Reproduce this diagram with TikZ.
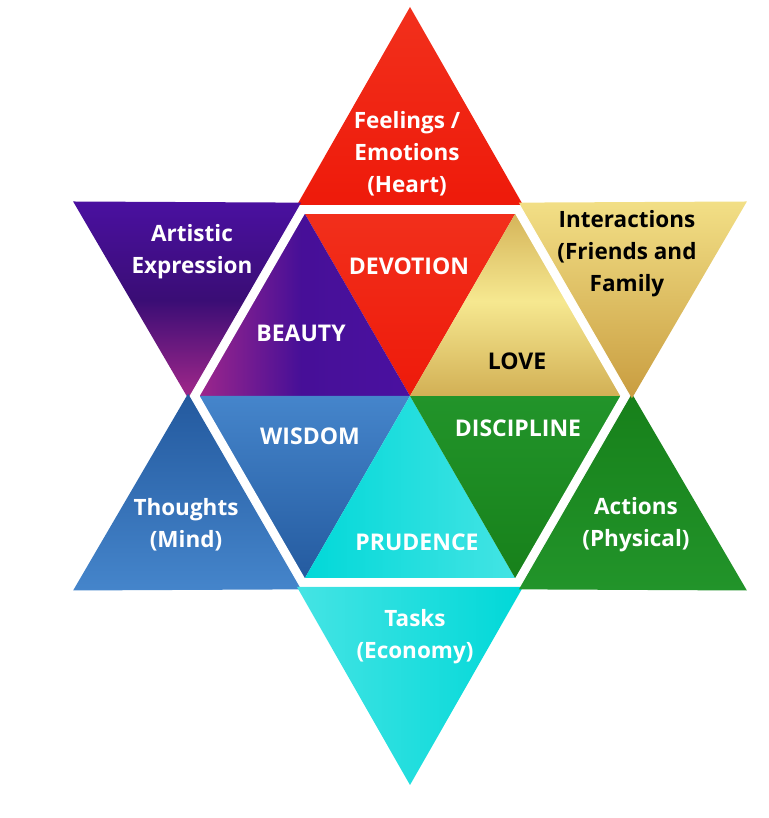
\documentclass[tikz,border=0pt]{standalone}
\usepackage{fontspec}
\setmainfont{Open Sans}
\usetikzlibrary{calc}
\definecolor{redA}{HTML}{F2301C}
\definecolor{redB}{HTML}{EE1A0A}
\definecolor{purA}{HTML}{4A10A0}
\definecolor{purB}{HTML}{3A0D75}
\definecolor{purC}{HTML}{A3288A}
\definecolor{goldA}{HTML}{F2DF86}
\definecolor{goldB}{HTML}{C99D40}
\definecolor{goldC}{HTML}{D2B055}
\definecolor{goldD}{HTML}{F6E890}
\definecolor{bluA}{HTML}{23599E}
\definecolor{bluB}{HTML}{4585CB}
\definecolor{grnA}{HTML}{17801A}
\definecolor{grnB}{HTML}{22942A}
\definecolor{cyaA}{HTML}{45E4E4}
\definecolor{cyaB}{HTML}{00D8D8}
\tikzset{
  outertxt/.style={font=\fontsize{22.5}{32}\selectfont\bfseries,text=white,
                   align=center,inner sep=0pt},
  innertxt/.style={font=\fontsize{23}{28}\selectfont\bfseries,text=white,
                   anchor=base,inner sep=0pt},
  darktxt/.style={text=black},
  rim/.style={draw=white,line width=8pt,line join=miter},
}

\begin{document}
\begin{tikzpicture}[x=1pt,y=1pt]
\useasboundingbox (0,0) rectangle (768,818);
\coordinate (C) at (410,422);

% --- corners of the six points of the star and the six inner wedges
\foreach \ang/\nm in {90/top,150/ul,210/ll,270/bot,330/lr,30/ur}{
  \pgfmathsetmacro\angl{\ang+90}
  \pgfmathsetmacro\angr{\ang-90}
  \pgfmathsetmacro\hexl{\ang+30}
  \pgfmathsetmacro\hexr{\ang-30}
  \coordinate (\nm-tip) at ($(C)+(\ang:389)$);
  \coordinate (\nm-b1)  at ($(C)+(\ang:191)+(\angl:113)$);
  \coordinate (\nm-b2)  at ($(C)+(\ang:191)+(\angr:113)$);
  \coordinate (\nm-h1)  at ($(C)+(\hexl:219)$);
  \coordinate (\nm-h2)  at ($(C)+(\hexr:219)$);
}

% --- outer points
\shade[top color=redA,bottom color=redB]                (top-tip) -- (top-b1) -- (top-b2) -- cycle;
\shade[top color=purA,bottom color=purC,middle color=purB] (ul-tip) -- (ul-b1) -- (ul-b2) -- cycle;
\shade[top color=bluA,bottom color=bluB]                (ll-tip) -- (ll-b1) -- (ll-b2) -- cycle;
\shade[left color=cyaA,right color=cyaB]                (bot-tip) -- (bot-b1) -- (bot-b2) -- cycle;
\shade[top color=grnA,bottom color=grnB]                (lr-tip) -- (lr-b1) -- (lr-b2) -- cycle;
\shade[top color=goldA,bottom color=goldB]              (ur-tip) -- (ur-b1) -- (ur-b2) -- cycle;

% --- inner wedges
\shade[top color=redA,bottom color=redB]                (C) -- (top-h1) -- (top-h2) -- cycle;
\shade[left color=purC,right color=purA,middle color=purA!80!purB] (C) -- (ul-h1) -- (ul-h2) -- cycle;
\shade[top color=bluB,bottom color=bluA]                (C) -- (ll-h1) -- (ll-h2) -- cycle;
\shade[left color=cyaB,right color=cyaA]                (C) -- (bot-h1) -- (bot-h2) -- cycle;
\shade[top color=grnB,bottom color=grnA]                (C) -- (lr-h1) -- (lr-h2) -- cycle;
\shade[top color=goldC,bottom color=goldC,middle color=goldD] (C) -- (ur-h1) -- (ur-h2) -- cycle;

% --- white rim round the hexagon
\draw[rim] ($(C)+(0:215)$) \foreach \a in {60,120,...,300}{ -- ($(C)+(\a:215)$)} -- cycle;

% --- labels
\node[outertxt] (feel)  at (407,664) {Feelings /\\Emotions\\(Heart)};
\node[outertxt] (art)   at (192,566) {Artistic\\Expression};
\node[outertxt,darktxt] (inter) at (627,564) {Interactions\\(Friends and\\Family};
\node[outertxt] (thought) at (186,293) {Thoughts\\(Mind)};
\node[outertxt] (act)   at (636,293) {Actions\\(Physical)};
\node[outertxt] (task)  at (415,181) {Tasks\\(Economy)};

\node[innertxt] (devo)  at (409,543) {DEVOTION};
\node[innertxt] (beau)  at (301,476) {BEAUTY};
\node[innertxt,darktxt] (love) at (517,448) {LOVE};
\node[innertxt] (wis)   at (310,373) {WISDOM};
\node[innertxt] (disc)  at (518,381) {DISCIPLINE};
\node[innertxt] (prud)  at (417,267) {PRUDENCE};

\end{tikzpicture}
\end{document}
